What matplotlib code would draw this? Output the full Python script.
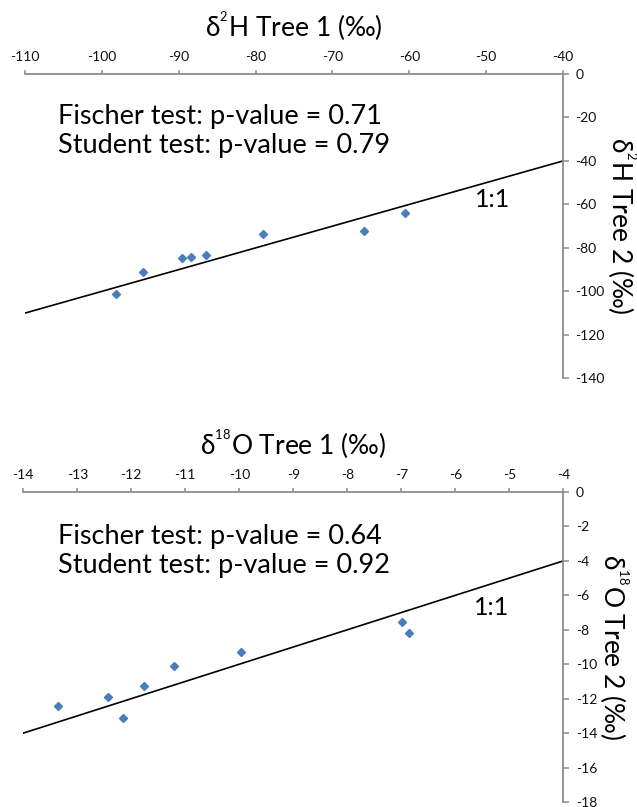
import matplotlib
matplotlib.use("Agg")
import matplotlib.pyplot as plt

plt.rcParams['font.family'] = ['Lato', 'DejaVu Sans']
plt.rcParams['mathtext.fontset'] = 'custom'
plt.rcParams['mathtext.rm'] = 'Lato'
plt.rcParams['mathtext.it'] = 'Lato:italic'
plt.rcParams['axes.unicode_minus'] = False

# Top panel: deuterium
h_tree1 = [-98.2, -94.7, -89.6, -88.4, -86.5, -79.0, -65.9, -60.5]
h_tree2 = [-101.2, -91.2, -84.5, -84.4, -83.4, -73.5, -72.4, -64.1]
h_lim = [-110, -40]
h_ylim = [-140, 0]
h_xticks = [-110, -100, -90, -80, -70, -60, -50, -40]
h_yticks = [0, -20, -40, -60, -80, -100, -120, -140]
h_texts = ["Fischer test: p-value = 0.71", "Student test: p-value = 0.79"]

# Bottom panel: oxygen-18
o_tree1 = [-13.36, -12.43, -12.15, -11.77, -11.21, -9.97, -6.99, -6.86]
o_tree2 = [-12.45, -11.93, -13.13, -11.29, -10.11, -9.28, -7.52, -8.20]
o_lim = [-14, -4]
o_ylim = [-18, 0]
o_xticks = list(range(-14, -3))
o_yticks = list(range(0, -19, -2))
o_texts = ["Fischer test: p-value = 0.64", "Student test: p-value = 0.92"]

W, H = 637, 807
fig = plt.figure(figsize=(W / 100, H / 100), dpi=100)

blue = '#4A7EBB'
gray = '#8C8C8C'

def px_ax(l, r, t, b):
    return fig.add_axes([l / W, 1 - b / H, (r - l) / W, (b - t) / H])

def style(ax, xlim, ylim, xticks, yticks, xlabel, ylabel):
    ax.set_xlim(xlim)
    ax.set_ylim(ylim)
    for s in ['left', 'bottom']:
        ax.spines[s].set_visible(False)
    for s in ['top', 'right']:
        ax.spines[s].set_color(gray)
        ax.spines[s].set_linewidth(1.3)
    ax.xaxis.tick_top()
    ax.yaxis.tick_right()
    ax.set_xticks(xticks)
    ax.set_yticks(yticks)
    ax.tick_params(axis='x', direction='out', length=3, width=1.1, color=gray,
                   labelsize=10, pad=5, labelcolor='#111111')
    ax.tick_params(axis='y', direction='out', length=4, width=1.1, color=gray,
                   labelsize=10, pad=5, labelcolor='#111111')
    ax.xaxis.set_label_position('top')
    ax.yaxis.set_label_position('right')
    ax.set_xlabel(xlabel, fontsize=19, labelpad=10)
    ax.set_ylabel(ylabel, fontsize=19, rotation=270, labelpad=24)
    ax.patch.set_alpha(0)

# top
ax1 = px_ax(25, 563, 74, 378.3)
ax1.plot(h_lim, h_lim, color='black', lw=1.2, zorder=2)
ax1.plot(h_tree1, h_tree2, ls='none', marker='D', ms=4.2, color=blue,
         mec=blue, zorder=3)
style(ax1, h_lim, h_ylim, h_xticks, h_yticks,
      'δ$^{^2}$H Tree 1 (‰)', 'δ$^{^2}$H Tree 2 (‰)')
ax1.text(-49.1, -57.7, '1:1', fontsize=18, ha='center', va='center')
fig.text(58 / W, 1 - 124.3 / H, h_texts[0], fontsize=19.5, va='baseline')
fig.text(58 / W, 1 - 153.3 / H, h_texts[1], fontsize=19.5, va='baseline')

# bottom
ax2 = px_ax(23.3, 563.3, 492, 802)
ax2.plot(o_lim, o_lim, color='black', lw=1.2, zorder=2)
ax2.plot(o_tree1, o_tree2, ls='none', marker='D', ms=4.2, color=blue,
         mec=blue, zorder=3)
style(ax2, o_lim, o_ylim, o_xticks, o_yticks,
      'δ$^{^{18}}$O Tree 1 (‰)', 'δ$^{^{18}}$O Tree 2 (‰)')
ax2.text(-5.32, -6.73, '1:1', fontsize=18, ha='center', va='center')
fig.text(58 / W, 1 - 544 / H, o_texts[0], fontsize=19.5, va='baseline')
fig.text(58 / W, 1 - 573 / H, o_texts[1], fontsize=19.5, va='baseline')

fig.savefig('out.png', dpi=100)
